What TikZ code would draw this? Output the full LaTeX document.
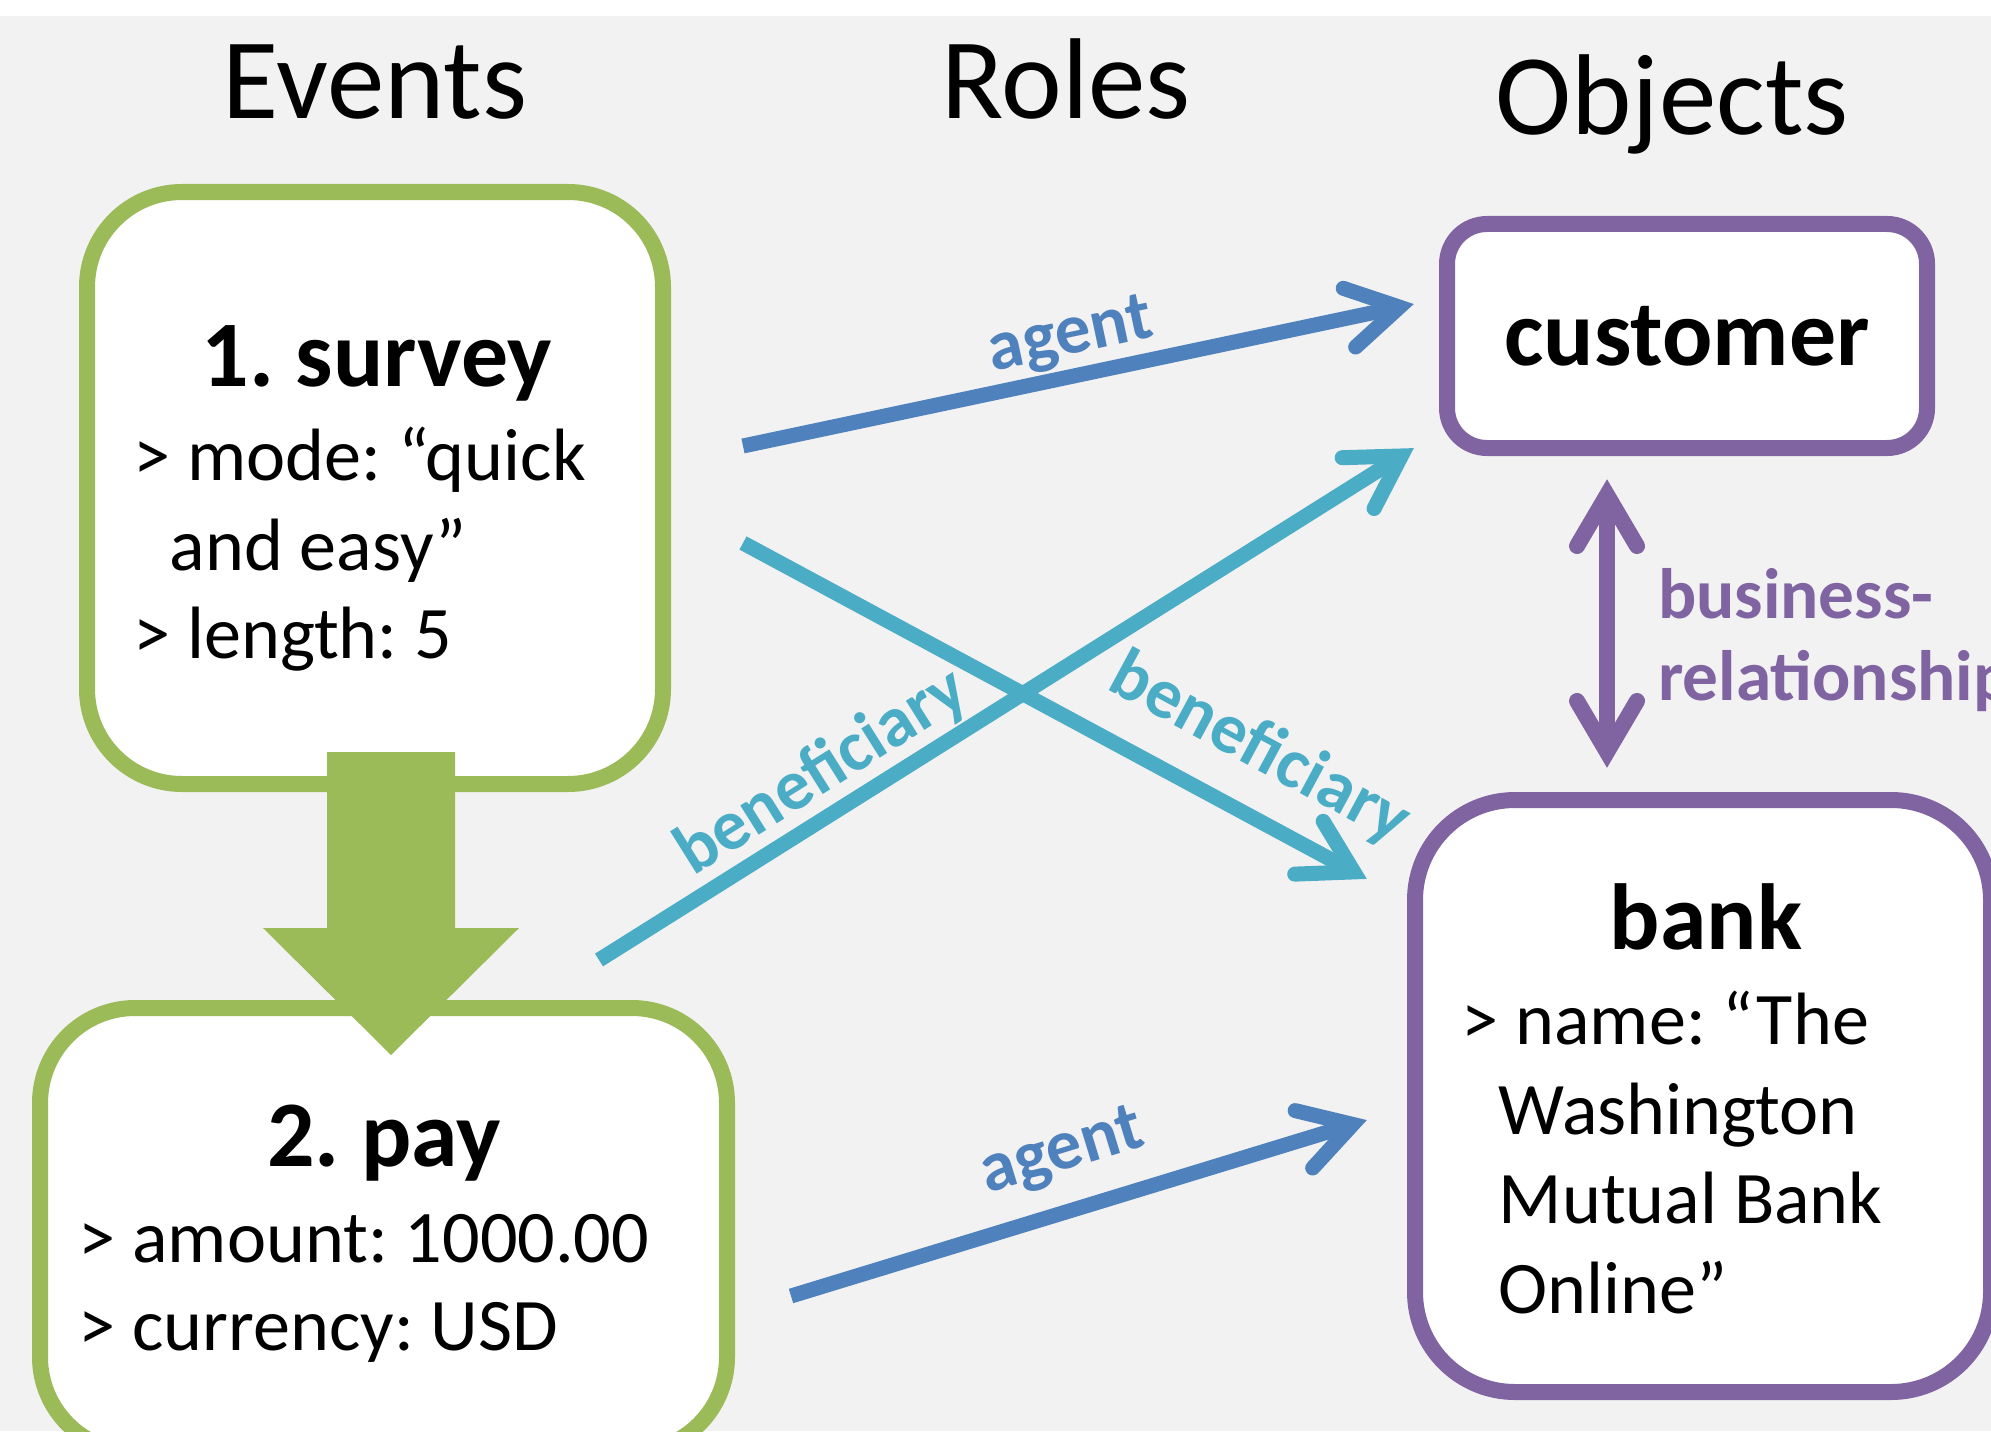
\documentclass[tikz,border=0pt]{standalone}
\usepackage{fontspec}
\setmainfont{Carlito}
\usepackage{xcolor}
\usepackage{tikz}
\usetikzlibrary{arrows.meta,calc}
\frenchspacing
\definecolor{bg}{HTML}{F2F2F2}
\definecolor{evgreen}{HTML}{9BBB59}
\definecolor{objpurple}{HTML}{8064A2}
\definecolor{agblue}{HTML}{4F81BD}
\definecolor{bfcyan}{HTML}{4BACC6}
% open chevron tip, as thick as the line, round barb ends
\pgfarrowsdeclare{chev}{chev}
{\pgfarrowsleftextend{-5.9mm}\pgfarrowsrightextend{1.5mm}}
{\pgfsetdash{}{0pt}\pgfsetroundcap\pgfsetmiterjoin
 \pgfpathmoveto{\pgfpoint{-5.1mm}{3mm}}
 \pgfpathlineto{\pgfpointorigin}
 \pgfpathlineto{\pgfpoint{-5.1mm}{-3mm}}
 \pgfusepathqstroke}
\tikzset{
  bigbold/.style={font=\bfseries\fontsize{26.7}{32}\selectfont},
  head/.style={font=\fontsize{32.7}{39}\selectfont, inner sep=0pt, anchor=base},
  ttl/.style={bigbold, inner sep=0pt, anchor=base},
  attr/.style={font=\fontsize{21.1}{25.3}\selectfont, inner sep=0pt, anchor=base west},
  role/.style={font=\bfseries\fontsize{20.3}{23.3}\selectfont, inner xsep=0pt},
  evbox/.style={draw=evgreen, line width=1.6mm, fill=white, rounded corners=9.5mm, inner sep=0pt, outer sep=0pt},
  objbox/.style={draw=objpurple, line width=1.6mm, fill=white, inner sep=0pt, outer sep=0pt},
  agentln/.style={-chev, draw=agblue, line width=1.5mm},
  benefln/.style={-chev, draw=bfcyan, line width=1.5mm},
  relln/.style={chev-chev, draw=objpurple, line width=1.6mm},
  flow/.style={draw=evgreen, line width=12.8mm, -{Triangle[length=12.7mm,width=25.6mm,line width=0pt]}}
}

\begin{document}
\begin{tikzpicture}[x=0.1mm,y=-0.1mm]
  \useasboundingbox (0,0) rectangle (1991,1431);
  \fill[white] (0,0) rectangle (1991,16);
  \fill[bg] (0,16) rectangle (1991,1431);

  % column headings
  \node[head] (hEvents) at (375,119) {Events};
  \node[head] (hRoles) at (1066,119) {Roles};
  \node[head] (hObjects) at (1672,135) {Objects};

  % events
  \node[evbox, minimum width=57.6mm, minimum height=59.2mm] (survey) at (375,488) {};
  \node[evbox, minimum width=68.7mm, minimum height=44.4mm] (pay) at (383.5,1230) {};

  % objects
  \node[objbox, bigbold, rounded corners=4mm, minimum width=48mm, minimum height=22.4mm] (customer) at (1687,336) {customer};
  \node[objbox, rounded corners=10mm, minimum width=57.6mm, minimum height=59.2mm] (bank) at (1703,1096) {};

  \node[ttl] (tSurvey) at (377,386) {1. survey};
  \node[attr] (aMode) at (133,480) {> mode: “quick};
  \node[attr] (aEasy) at (169,570) {and easy”};
  \node[attr] (aLength) at (133,658) {> length: 5};

  \node[ttl] (tPay) at (384,1166) {2. pay};
  \node[attr] (aAmount) at (78,1262) {> amount: 1000.00};
  \node[attr] (aCurrency) at (78,1350) {> currency: USD};

  \node[ttl] (tBank) at (1706,949) {bank};
  \node[attr] (aName) at (1461,1044) {> name: “The};
  \node[attr] (aWash) at (1498,1134) {Washington};
  \node[attr] (aMutual) at (1498,1223) {Mutual Bank};
  \node[attr] (aOnline) at (1498,1313) {Online”};

  % survey happens before pay
  \draw[flow] ($(survey.south)+(16,-32)$) -- ($(pay.north)+(7.5,47)$);

  % roles
  \draw[agentln] ($(survey.east)+(80,-42)$)
    -- node[role, text=agblue, sloped, above, pos=.5, inner ysep=0.2mm] (lAgentA) {agent}
    ($(customer.west)+(-33,-32)$);
  \draw[benefln] ($(survey.east)+(80,55)$)
    -- node[role, text=bfcyan, sloped, above, pos=.78, inner ysep=2.5mm] (lBenefA) {beneficiary}
    ($(bank.north west)+(-48,79)$);
  \draw[benefln] ($(pay.north east)+(-128,-48)$)
    -- node[role, text=bfcyan, sloped, above, pos=.3, inner ysep=0.2mm] (lBenefB) {beneficiary}
    ($(customer.south west)+(-33,0)$);
  \draw[agentln] ($(pay.east)+(64,66)$)
    -- node[role, text=agblue, sloped, above, pos=.5, inner ysep=2.1mm] (lAgentB) {agent}
    ($(bank.west)+(-48,24)$);

  % relation between objects
  \draw[relln] ($(customer.south)+(-80,32)$)
    -- node[role, text=objpurple, align=left, anchor=west, pos=.557, inner xsep=4.3mm, inner ysep=0pt] (lRel) {business-\\relationship}
    ($(bank.north)+(-96,-33)$);
\end{tikzpicture}
\end{document}
